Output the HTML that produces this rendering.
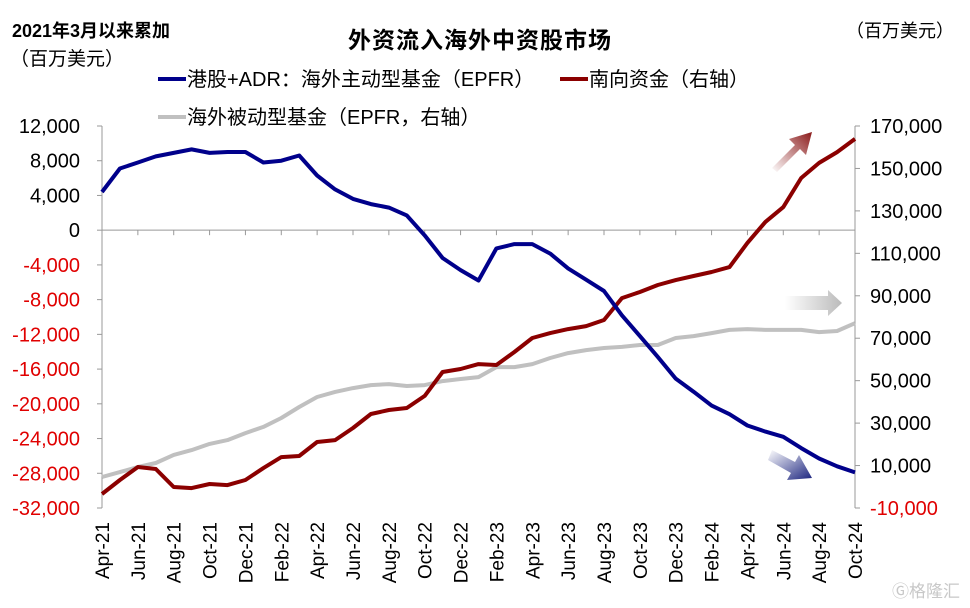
<!DOCTYPE html>
<html><head><meta charset="utf-8"><style>
body{margin:0;background:#fff;}
svg{display:block;font-family:"Liberation Sans","Noto Sans CJK SC",sans-serif;}
</style></head><body>
<svg id="c" width="970" height="608" viewBox="0 0 970 608">
<defs>
<linearGradient id="gr" x1="0" y1="1" x2="1" y2="0"><stop offset="0" stop-color="#8b1a1a" stop-opacity="0"/><stop offset="1" stop-color="#8b1a1a"/></linearGradient>
<linearGradient id="gg" x1="0" y1="0" x2="1" y2="0"><stop offset="0" stop-color="#bbb" stop-opacity="0"/><stop offset="1" stop-color="#bbb"/></linearGradient>
<linearGradient id="gb" x1="0" y1="0" x2="1" y2="1"><stop offset="0" stop-color="#1a237e" stop-opacity="0"/><stop offset="1" stop-color="#1a237e"/></linearGradient>
</defs>
<text x="480" y="48" text-anchor="middle" font-size="23" font-weight="bold" letter-spacing="1">外资流入海外中资股市场</text>
<text x="12" y="37" font-size="18" font-weight="bold">2021年3月以来累加</text>
<text x="10" y="65" font-size="19">（百万美元）</text>
<text x="846" y="37" font-size="18">（百万美元）</text>
<g><line x1="158" y1="79" x2="186" y2="79" stroke="#00008b" stroke-width="4"/><text x="187" y="86" font-size="20">港股+ADR：海外主动型基金（EPFR）</text></g>
<g><line x1="560" y1="79" x2="588" y2="79" stroke="#8b0000" stroke-width="4"/><text x="589" y="86" font-size="20">南向资金（右轴）</text></g>
<g><line x1="158" y1="117" x2="186" y2="117" stroke="#c0c0c0" stroke-width="4"/><text x="187" y="124" font-size="20">海外被动型基金（EPFR，右轴）</text></g>
<g id="axes"></g>
<g id="marks"></g>
<g>
<polygon points="772,168 795,145 789,139 812,132 806,155 800,149 777,172" fill="url(#gr)"/>
<polygon points="785,296 828,296 828,290 842,303 828,316 828,310 785,310" fill="url(#gg)"/>
<polygon points="772,450 795,462 799,455 812,478 787,480 791,473 768,460" fill="url(#gb)"/>
</g>
<text x="960" y="597" text-anchor="end" font-size="17" fill="#c8c8c8">Ⓖ格隆汇</text>
</svg>
<script>
const months=["Apr-21","Jun-21","Aug-21","Oct-21","Dec-21","Feb-22","Apr-22","Jun-22","Aug-22","Oct-22","Dec-22","Feb-23","Apr-23","Jun-23","Aug-23","Oct-23","Dec-23","Feb-24","Apr-24","Jun-24","Aug-24","Oct-24"];
const leftTicks=[12000,8000,4000,0,-4000,-8000,-12000,-16000,-20000,-24000,-28000,-32000];
const rightTicks=[170000,150000,130000,110000,90000,70000,50000,30000,10000,-10000];
const activeFunds=[4400,7100,7800,8500,8900,9300,8900,9000,9000,7800,8000,8600,6300,4700,3600,3000,2600,1700,-600,-3200,-4600,-5800,-2100,-1600,-1600,-2700,-4400,-5700,-7000,-9800,-12200,-14600,-17100,-18600,-20200,-21200,-22500,-23200,-23800,-25100,-26300,-27200,-27900];
const southbound=[-3400,3200,9300,8400,-100,-600,1300,800,3200,8800,14000,14500,21100,22000,27700,34300,36200,37100,42800,54100,55500,57800,57400,63500,70100,72400,74300,75700,78600,88900,91800,95100,97400,99300,101200,103500,114900,124800,131800,145500,152600,157700,163900];
const passiveFunds=[4600,6900,9300,11200,15000,17300,20200,22000,25300,28200,32400,37600,42300,44700,46500,47900,48400,47500,47900,49800,50800,51700,56400,56400,57800,60700,63000,64400,65400,65900,66800,66800,70100,71000,72400,73900,74300,73900,73900,73900,72900,73400,77100];
const X0=102,X1=855,YT=126,YB=508;
const nM=activeFunds.length-1;
const xs=i=>X0+(X1-X0)*i/nM;
const yL=v=>YT+(12000-v)/(44000)*(YB-YT);
const yR=v=>YT+(170000-v)/(180000)*(YB-YT);
const NS="http://www.w3.org/2000/svg";
const ax=document.getElementById('axes'),mk=document.getElementById('marks');
function mkEl(t,a,p){const e=document.createElementNS(NS,t);for(const k in a)e.setAttribute(k,a[k]);p.appendChild(e);return e;}
let e;
e=mkEl('line',{x1:X0,y1:YT,x2:X0,y2:YB,stroke:'#999'},ax);


e=mkEl('line',{x1:X1,y1:YT,x2:X1,y2:YB,stroke:'#999'},ax);


e=mkEl('line',{x1:X0,y1:yL(0),x2:X1,y2:yL(0),stroke:'#999'},ax);


leftTicks.forEach(v=>{const y=yL(v);mkEl('line',{x1:X0-5,y1:y,x2:X0,y2:y,stroke:'#999'},ax);
e=mkEl('text',{x:80,y:y+7,'text-anchor':'end','font-size':20,fill:v<0?'#e00000':'#000'},ax);e.textContent=v.toLocaleString('en-US');

});
rightTicks.forEach(v=>{const y=yR(v);mkEl('line',{x1:X1,y1:y,x2:X1+5,y2:y,stroke:'#999'},ax);
e=mkEl('text',{x:870,y:y+7,'font-size':20,fill:v<0?'#e00000':'#000'},ax);e.textContent=v.toLocaleString('en-US');

});
months.forEach((m,i)=>{const x=xs(i*2);mkEl('line',{x1:x,y1:yL(0),x2:x,y2:yL(0)+5,stroke:'#999'},ax);
e=mkEl('text',{x:0,y:0,'font-size':19,'text-anchor':'end',transform:`translate(${x+7},522) rotate(-90)`},ax);e.textContent=m;

});
function line(arr,yf,col,name){const d=arr.map((v,i)=>(i?'L':'M')+xs(i).toFixed(1)+','+yf(v).toFixed(1)).join('');
const p=mkEl('path',{d:d,fill:'none',stroke:col,'stroke-width':4,'stroke-linejoin':'round'},mk);

}
line(passiveFunds,yR,'#c0c0c0','passive-funds-line');
line(southbound,yR,'#8b0000','southbound-line');
line(activeFunds,yL,'#00008b','active-funds-line');
</script>
</body></html>
